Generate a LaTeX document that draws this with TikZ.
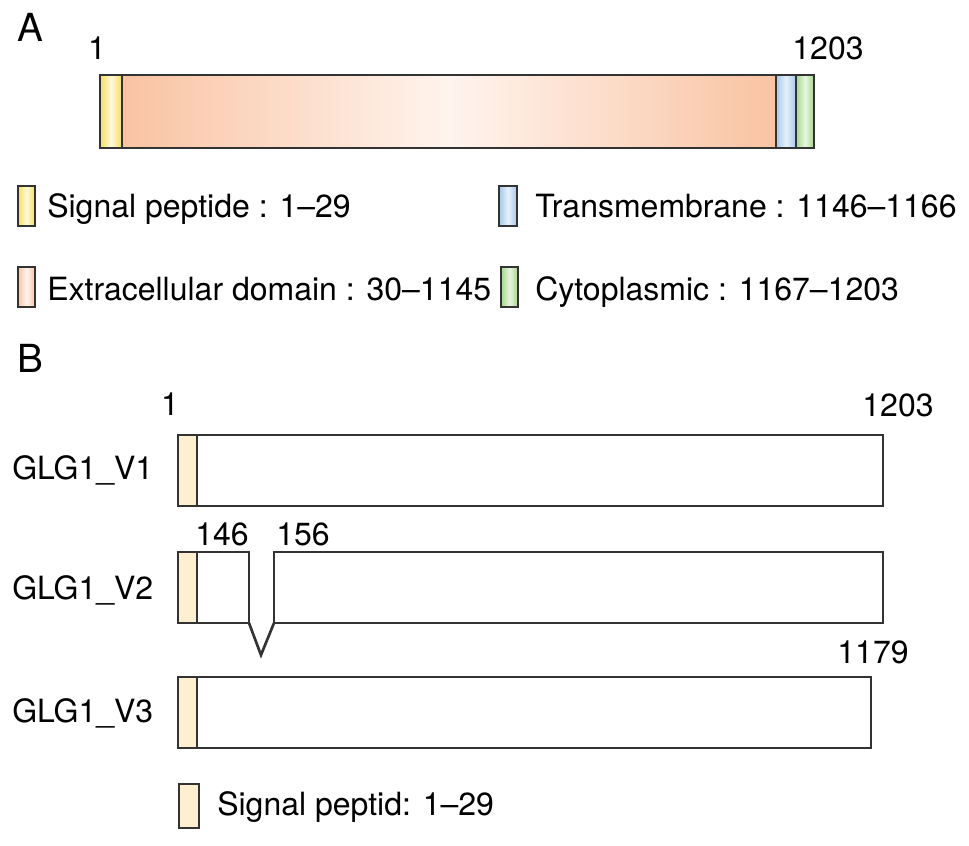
\documentclass[tikz,border=0pt]{standalone}
\usepackage{fontspec}
\setmainfont{TeX Gyre Heros}
\begin{document}
\begin{tikzpicture}[x=0.75pt,y=-0.75pt,
  box/.style={draw=black!80,line width=2pt},
  lbl/.style={anchor=base,inner sep=0pt,font=\fontsize{24}{28}\selectfont},
  lbw/.style={anchor=base west,inner sep=0pt,font=\fontsize{24}{28}\selectfont},
  panel/.style={anchor=base west,inner sep=0pt,font=\fontsize{29}{34}\selectfont}]
\definecolor{ylw}{HTML}{F5DE5E}
\definecolor{ylwc}{HTML}{FFF9DC}
\definecolor{org}{HTML}{F9C3A2}
\definecolor{orgc}{HTML}{FFF4EE}
\definecolor{blu}{HTML}{A6C8EA}
\definecolor{bluc}{HTML}{E6F0FA}
\definecolor{grn}{HTML}{A3D78A}
\definecolor{grnc}{HTML}{E8F5E0}
\definecolor{crm}{HTML}{FDEFCF}
\useasboundingbox (0,0) rectangle (969,845);
% Panel A
\node[panel] (A) at (17,42) {A};
\node[lbl] (a1) at (97,60) {1};
\node[lbl] (a1203) at (828,60) {1203};
\fill[left color=ylw,right color=ylw,middle color=ylwc] (100,75) rectangle (122,148);
\fill[left color=org,right color=org,middle color=orgc] (122,75) rectangle (776,148);
\fill[left color=blu,right color=blu,middle color=bluc] (776,75) rectangle (796,148);
\fill[left color=grn,right color=grn,middle color=grnc] (796,75) rectangle (814,148);
\draw[box] (100,75) rectangle (814,148);
\draw[box] (122,75) -- (122,148) (776,75) -- (776,148) (796,75) -- (796,148);
% Legend A
\draw[box,left color=ylw,right color=ylw,middle color=ylwc] (18,186) rectangle (35,226);
\node[lbw] (lsig) at (47,217) {Signal peptide : 1--29};
\draw[box,left color=org,right color=org,middle color=orgc] (18,267) rectangle (35,307);
\node[lbw] (lext) at (47,300) {Extracellular domain : 30--1145};
\draw[box,left color=blu,right color=blu,middle color=bluc] (499,186) rectangle (517,226);
\node[lbw] (ltm) at (535,217) {Transmembrane : 1146--1166};
\draw[box,left color=grn,right color=grn,middle color=grnc] (501,267) rectangle (518,307);
\node[lbw] (lcyt) at (535,300) {Cytoplasmic : 1167--1203};
% Panel B
\node[panel] (B) at (17,372) {B};
\node[lbl] (b1) at (170,415) {1};
\node[lbl] (b1203) at (898,416) {1203};
\node[lbw] (v1) at (12,479) {GLG1\_V1};
\fill[crm] (178,435) rectangle (197,506);
\draw[box] (178,435) rectangle (883,506);
\draw[box] (197,435) -- (197,506);
\node[lbl] (b146) at (222,545) {146};
\node[lbl] (b156) at (303,545) {156};
\node[lbw] (v2) at (12,599) {GLG1\_V2};
\fill[crm] (178,552) rectangle (197,623);
\draw[box] (178,552) rectangle (249,623);
\draw[box] (197,552) -- (197,623);
\draw[box] (274,552) rectangle (883,623);
\draw[box,line join=miter] (249,623) -- (261,655) -- (274,623);
\node[lbl] (b1179) at (873,663) {1179};
\node[lbw] (v3) at (12,722) {GLG1\_V3};
\fill[crm] (178,677) rectangle (197,748);
\draw[box] (178,677) rectangle (871,748);
\draw[box] (197,677) -- (197,748);
% Legend B
\draw[box,fill=crm] (179,784) rectangle (199,828);
\node[lbw] (lsigb) at (217,815) {Signal peptid: 1--29};
\end{tikzpicture}
\end{document}
